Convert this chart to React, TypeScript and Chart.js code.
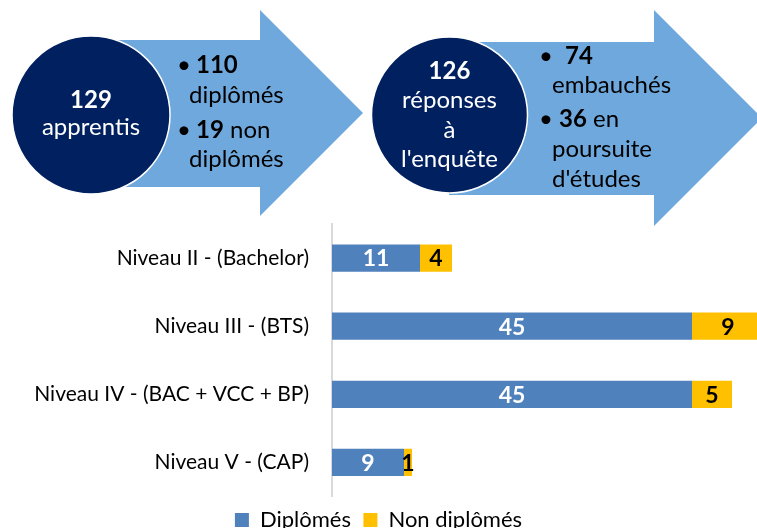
import React, { useEffect, useRef } from "react";
import { Chart, registerables } from "chart.js";

Chart.register(...registerables);

const categories = [
  "Niveau II - (Bachelor)",
  "Niveau III - (BTS)",
  "Niveau IV - (BAC + VCC + BP)",
  "Niveau V - (CAP)",
];
const diplomes = [11, 45, 45, 9];
const nonDiplomes = [4, 9, 5, 1];
const seriesNames = ["Diplômés", "Non diplômés"];
const seriesColors = ["#4F81BD", "#FFC000"];
const labelColors = ["#FFFFFF", "#000000"];

const FONT = "Lato, 'Open Sans', sans-serif";

const valueLabels = {
  id: "valueLabels",
  afterDatasetsDraw(chart: any) {
    const ctx = chart.ctx;
    chart.data.datasets.forEach((ds: any, i: number) => {
      const meta = chart.getDatasetMeta(i);
      meta.data.forEach((bar: any, j: number) => {
        const p = bar.getProps(["x", "y", "base"], true);
        const cx = (p.x + p.base) / 2;
        ctx.save();
        ctx.font = "bold 23px " + FONT;
        ctx.fillStyle = labelColors[i];
        ctx.textAlign = "center";
        ctx.textBaseline = "middle";
        ctx.fillText(String(ds.data[j]), cx, p.y + 1);
        ctx.restore();
      });
    });
  },
};

function BarChart() {
  const ref = useRef<HTMLCanvasElement | null>(null);
  useEffect(() => {
    if (!ref.current) return;
    const chart = new Chart(ref.current, {
      type: "bar",
      data: {
        labels: categories,
        datasets: [
          {
            label: seriesNames[0],
            data: diplomes,
            backgroundColor: seriesColors[0],
            borderWidth: 0,
            barPercentage: 0.8,
            categoryPercentage: 0.5,
          },
          {
            label: seriesNames[1],
            data: nonDiplomes,
            backgroundColor: seriesColors[1],
            borderWidth: 0,
            barPercentage: 0.8,
            categoryPercentage: 0.5,
          },
        ],
      },
      options: {
        indexAxis: "y",
        responsive: false,
        animation: false,
        layout: { padding: { top: 40, left: 0, right: 0, bottom: 0 } },
        plugins: {
          tooltip: { enabled: false },
          legend: {
            position: "bottom",
            labels: {
              boxWidth: 14,
              boxHeight: 14,
              padding: 12.5,
              color: "#000",
              font: { family: FONT, size: 22 },
            },
          },
        },
        scales: {
          x: {
            display: false,
            stacked: true,
            min: 0,
            max: 53.125,
          },
          y: {
            stacked: true,
            grid: { display: false, drawTicks: false },
            border: { display: true, color: "#D9D9D9", width: 2 },
            ticks: {
              padding: 23,
              color: "#000",
              font: { family: FONT, size: 21 },
            },
            afterFit: (scale: any) => {
              scale.width = 332;
            },
          },
        },
      },
      plugins: [valueLabels],
    } as any);
    return () => chart.destroy();
  }, []);
  return (
    <canvas
      ref={ref}
      width={757}
      height={357}
      style={{ position: "absolute", left: 0, top: 184, display: "block" }}
    />
  );
}

function Infographic() {
  const arrowColor = "#6FA8DC";
  const navy = "#002060";
  const t = { fontFamily: FONT, fontSize: 24 } as any;
  return (
    <svg
      width={757}
      height={230}
      style={{ position: "absolute", left: 0, top: 0 }}
    >
      <polygon
        points="91,40 260,40 260,10 363,113 260,216 260,187 91,187"
        fill={arrowColor}
      />
      <circle cx={91} cy={115} r={79} fill={navy} stroke="#fff" strokeWidth={1.5} />
      <polygon
        points="449,42 654,42 654,10 762,118 654,226 654,195 449,195"
        fill={arrowColor}
      />
      <circle cx={449.5} cy={115} r={78} fill={navy} stroke="#fff" strokeWidth={1.5} />

      <g fill="#fff" textAnchor="middle" style={t}>
        <text x={91} y={108} fontWeight="bold">129</text>
        <text x={91} y={135}>apprentis</text>
        <text x={449.5} y={79} fontWeight="bold">126</text>
        <text x={449.5} y={108}>réponses</text>
        <text x={449.5} y={138}>à</text>
        <text x={449.5} y={167}>l'enquête</text>
      </g>

      <g fill="#000" style={t}>
        <text x={177} y={73}>•</text>
        <text x={196} y={73} fontWeight="bold">110</text>
        <text x={189} y={103}>diplômés</text>
        <text x={177} y={138}>•</text>
        <text x={196} y={138}><tspan fontWeight="bold">19</tspan> non</text>
        <text x={189} y={167}>diplômés</text>

        <text x={539} y={64}>•</text>
        <text x={565} y={64} fontWeight="bold">74</text>
        <text x={552} y={93}>embauchés</text>
        <text x={539} y={127}>•</text>
        <text x={559} y={127}><tspan fontWeight="bold">36</tspan> en</text>
        <text x={552} y={157}>poursuite</text>
        <text x={552} y={187}>d'études</text>
      </g>
    </svg>
  );
}

export default function App() {
  return (
    <div
      style={{
        position: "fixed",
        left: 0,
        top: 0,
        width: 757,
        height: 528,
        overflow: "hidden",
        background: "#fff",
      }}
    >
      <BarChart />
      <Infographic />
    </div>
  );
}
